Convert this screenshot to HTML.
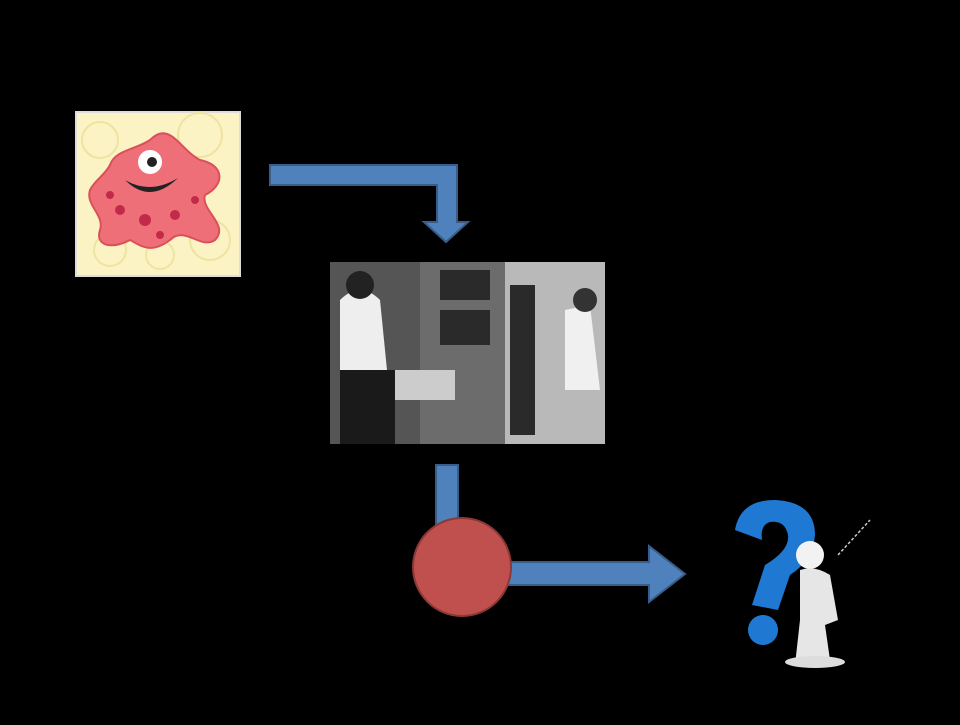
<!DOCTYPE html>
<html><head><style>body{margin:0;width:960px;height:720px;background:#000;overflow:hidden}</style></head>
<body>
<svg width="960" height="720" viewBox="0 0 960 720" xmlns="http://www.w3.org/2000/svg">
<rect width="960" height="720" fill="#000"/>
<!-- monster image -->
<rect x="76" y="112" width="164" height="164" fill="#fbf3c4" stroke="#ddd" stroke-width="2"/>
<g fill="none" stroke="#efe3a0" stroke-width="2">
<circle cx="100" cy="140" r="18"/><circle cx="200" cy="135" r="22"/><circle cx="210" cy="240" r="20"/><circle cx="110" cy="250" r="16"/><circle cx="160" cy="255" r="14"/></g>
<path d="M150 140 C170 120 180 150 200 160 C225 165 225 185 205 195 C200 210 230 225 215 240 C200 250 185 225 170 240 C150 255 140 245 130 240 C110 250 95 245 100 230 C105 215 85 205 90 190 C95 180 105 175 110 165 C115 150 135 150 150 140 Z" fill="#ef6f78" stroke="#d9505a" stroke-width="2"/>
<circle cx="150" cy="162" r="12" fill="#fff"/><circle cx="152" cy="162" r="5" fill="#222"/>
<path d="M125 180 Q150 205 178 178 Q150 195 125 180Z" fill="#222"/>
<g fill="#c22a4a"><circle cx="120" cy="210" r="5"/><circle cx="145" cy="220" r="6"/><circle cx="175" cy="215" r="5"/><circle cx="195" cy="200" r="4"/><circle cx="110" cy="195" r="4"/><circle cx="160" cy="235" r="4"/></g>
<!-- photo -->
<rect x="330" y="262" width="275" height="182" fill="#8a8a8a"/>
<rect x="330" y="262" width="90" height="182" fill="#555"/>
<rect x="420" y="262" width="85" height="182" fill="#6c6c6c"/>
<rect x="505" y="262" width="100" height="182" fill="#b9b9b9"/>
<g fill="#2a2a2a"><rect x="440" y="270" width="50" height="30"/><rect x="440" y="310" width="50" height="35"/><rect x="510" y="285" width="25" height="150"/></g>
<path d="M340 300 Q360 280 380 300 L390 400 L340 400Z" fill="#eee"/>
<rect x="340" y="370" width="55" height="74" fill="#1a1a1a"/>
<circle cx="360" cy="285" r="14" fill="#222"/>
<rect x="395" y="370" width="60" height="30" fill="#ccc"/>
<path d="M565 310 L590 305 L600 390 L565 390Z" fill="#f0f0f0"/>
<circle cx="585" cy="300" r="12" fill="#333"/>
<!-- arrow 1 -->
<path d="M270 165 L457 165 L457 222 L468 222 L446 242 L424 222 L437 222 L437 185 L270 185 Z" fill="#4f81bd" stroke="#385d8a" stroke-width="2"/>
<!-- bottom connector -->
<rect x="436" y="465" width="22" height="60" fill="#4f81bd" stroke="#385d8a" stroke-width="2"/>
<path d="M505 562 L649 562 L649 546 L685 574 L649 602 L649 585 L505 585 Z" fill="#4f81bd" stroke="#385d8a" stroke-width="2"/>
<circle cx="462" cy="567" r="49" fill="#c0504d" stroke="#8c3836" stroke-width="2"/>
<!-- question figure -->
<path d="M735 530 Q740 500 775 500 Q815 502 815 535 Q813 560 790 575 L778 610 L752 605 L765 565 Q790 550 788 535 Q785 520 770 522 Q760 525 762 540 Z" fill="#1f78d1"/>
<circle cx="763" cy="630" r="15" fill="#1f78d1"/>
<circle cx="810" cy="555" r="14" fill="#f2f2f2"/>
<path d="M800 570 Q815 565 830 575 L838 620 L825 625 L830 660 L795 665 L800 620 Z" fill="#e6e6e6"/>
<ellipse cx="815" cy="662" rx="30" ry="6" fill="#ddd"/>
<path d="M838 555 L870 520" stroke="#ccc" stroke-width="1.5" stroke-dasharray="3 2"/>
</svg>
</body></html>
